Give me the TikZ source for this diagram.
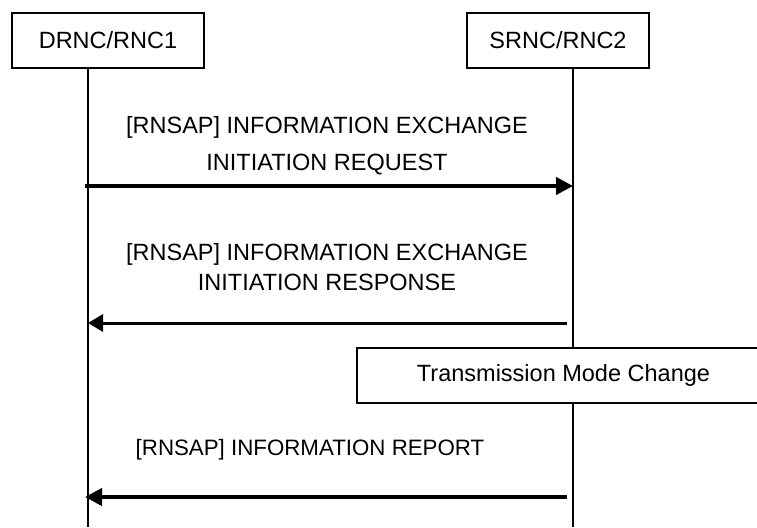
\documentclass[tikz,border=0pt]{standalone}
\usepackage{fontspec}
\setmainfont{Liberation Sans}
\usepackage{tikz}
\usetikzlibrary{arrows.meta}
\tikzset{
  entity/.style={draw,line width=1.4pt,minimum height=55pt,inner sep=0pt,font=\fontsize{23.5}{28}\selectfont},
  lifeline/.style={line width=2pt},
  msglabel/.style={align=center,inner sep=0pt,font=\fontsize{23.5}{30}\selectfont},
  msgarrow/.style={line width=4pt,-{Triangle[length=17pt,width=17pt]}},
  msgarrowthin/.style={line width=3pt,-{Triangle[length=15pt,width=17pt]}}
}

\begin{document}
\begin{tikzpicture}[x=1pt,y=-1pt]
  % drawing parameters
  \pgfmathsetmacro{\drncx}{88} % x of left lifeline
  \pgfmathsetmacro{\srncx}{573} % x of right lifeline
  \pgfmathsetmacro{\lifeend}{527} % lower end of lifelines
  \useasboundingbox (0,0) rectangle (757,527);
  \clip (0,0) rectangle (757,527);

  % entities
  \node[entity,minimum width=192pt] (drnc) at (108,40.5) {DRNC/RNC1};
  \node[entity,minimum width=182pt] (srnc) at (558,40.5) {SRNC/RNC2};

  % lifelines
  \coordinate (drncend) at (\drncx,\lifeend);
  \coordinate (srncend) at (\srncx,\lifeend);
  \draw[lifeline] (drnc.south -| drncend) -- (drncend);
  \draw[lifeline] (srnc.south -| srncend) -- (srncend);

  % request
  \node[msglabel] (reqlabel) at (327,146) {[RNSAP] INFORMATION EXCHANGE\\[7pt]INITIATION REQUEST};
  \coordinate (reqfrom) at (\drncx-3,186);
  \coordinate (reqto) at (\srncx,186);
  \draw[msgarrow] (reqfrom) -- (reqto);

  % response
  \node[msglabel] (resplabel) at (327,267) {[RNSAP] INFORMATION EXCHANGE\\INITIATION RESPONSE};
  \coordinate (respfrom) at (\srncx-6,323);
  \coordinate (respto) at (\drncx,323);
  \draw[msgarrowthin] (respfrom) -- (respto);

  % mode change
  \node[entity,minimum width=413pt,fill=white] (tmc) at (563.5,375.5) {Transmission Mode Change};

  % report
  \node[msglabel,font=\fontsize{22.3}{28}\selectfont] (replabel) at (310,450) {[RNSAP] INFORMATION REPORT};
  \coordinate (repfrom) at (\srncx-6,497);
  \coordinate (repto) at (\drncx-3,497);
  \draw[msgarrow] (repfrom) -- (repto);
\end{tikzpicture}
\end{document}
